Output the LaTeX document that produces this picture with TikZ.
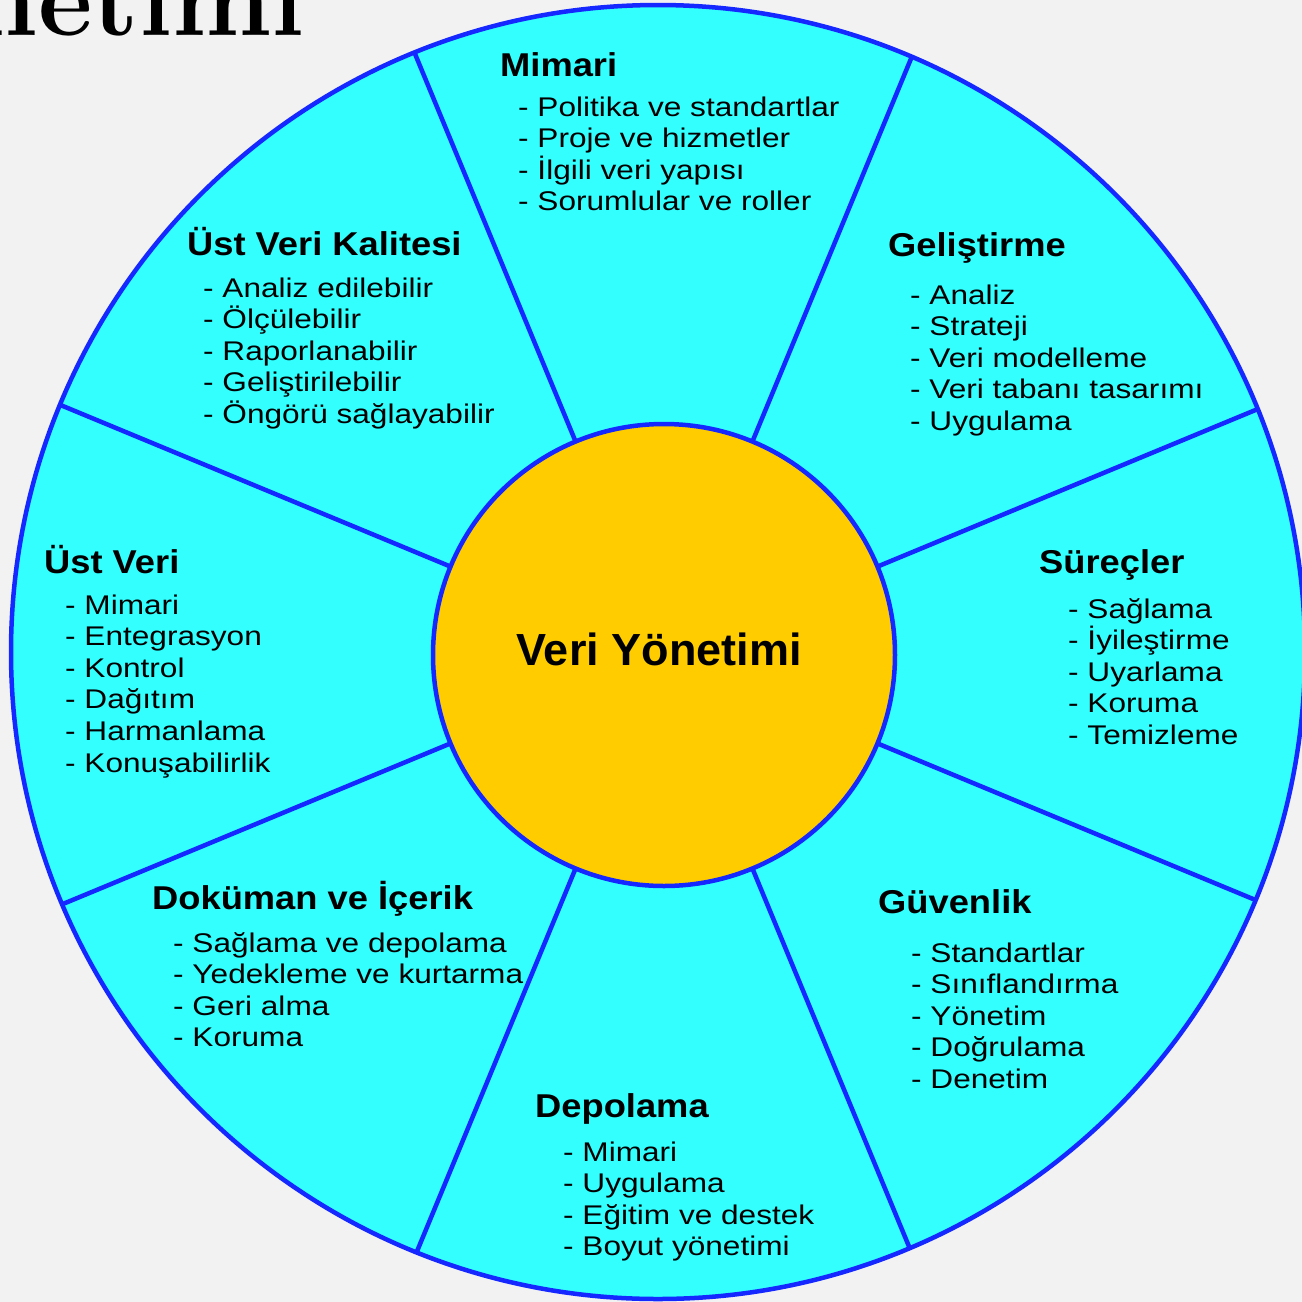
\documentclass[tikz,border=0pt]{standalone}
\usepackage{fontspec}
\setmainfont{Liberation Sans}
\newfontfamily\itemfont{Liberation Sans}[FakeStretch=1.17]
\newfontfamily\titlefont{Liberation Sans Bold}[FakeStretch=1.1]
\newfontfamily\corefont{Liberation Sans Bold}
\newfontfamily\headfont{Latin Modern Roman}
\definecolor{bgc}{RGB}{242,242,242}
\definecolor{cyanfill}{RGB}{51,255,255}
\definecolor{lineblue}{RGB}{20,40,255}
\definecolor{corefill}{RGB}{255,204,0}
\newcommand\sectorblock[7]{%
  \node[ttl] (#1) at (#3,#4) {#2};
  \foreach \t [count=\i] in {#7} {\node[itm] (#1-\i) at (#5,{#6+(\i-1)*31.6}) {- \t};}%
}
\begin{document}
\begin{tikzpicture}[x=1pt,y=-1pt,
  itm/.style={anchor=base west, inner sep=0pt, font=\itemfont\fontsize{27}{31}\selectfont},
  ttl/.style={anchor=base west, inner sep=0pt, font=\titlefont\fontsize{33}{40}\selectfont},
  spoke/.style={draw=lineblue, line width=4.5pt}]
\useasboundingbox (0,0) rectangle (1302,1302);
\fill[bgc] (0,0) rectangle (1302,1302);
\node[anchor=base east, inner sep=0pt, font=\headfont\bfseries\fontsize{106}{106}\selectfont] (head) at (305,35) {netimi};
\fill[cyanfill] (658,652) circle[radius=647];
\begin{scope}
  \clip (658,652) circle[radius=647];
  \foreach \a in {22.5,67.5,...,337.5} \draw[spoke] (664,655) -- ++(\a:720);
\end{scope}
\draw[lineblue, line width=4.5pt] (658,652) circle[radius=647];
\node[circle, draw=lineblue, line width=4.5pt, fill=corefill, minimum size=462pt, inner sep=0pt] (core) at (664,655) {};
\node[anchor=base, inner sep=0pt, font=\corefont\fontsize{45}{50}\selectfont] (coretext) at (659,665) {Veri Yönetimi};
\sectorblock{mimari}{Mimari}{500}{76}{518}{116}{Politika ve standartlar,Proje ve hizmetler,İlgili veri yapısı,Sorumlular ve roller}
\sectorblock{kalite}{Üst Veri Kalitesi}{187}{255}{203}{297}{Analiz edilebilir,Ölçülebilir,Raporlanabilir,Geliştirilebilir,Öngörü sağlayabilir}
\sectorblock{gelis}{Geliştirme}{888}{256}{910}{304}{Analiz,Strateji,Veri modelleme,Veri tabanı tasarımı,Uygulama}
\sectorblock{surec}{Süreçler}{1039}{573}{1068}{618}{Sağlama,İyileştirme,Uyarlama,Koruma,Temizleme}
\sectorblock{ustveri}{Üst Veri}{44}{573}{65}{614}{Mimari,Entegrasyon,Kontrol,Dağıtım,Harmanlama,Konuşabilirlik}
\sectorblock{dokuman}{Doküman ve İçerik}{152}{909}{173}{952}{Sağlama ve depolama,Yedekleme ve kurtarma,Geri alma,Koruma}
\sectorblock{guven}{Güvenlik}{878}{913}{911}{962}{Standartlar,Sınıflandırma,Yönetim,Doğrulama,Denetim}
\sectorblock{depo}{Depolama}{535}{1117}{563}{1161}{Mimari,Uygulama,Eğitim ve destek,Boyut yönetimi}
\end{tikzpicture}
\end{document}
